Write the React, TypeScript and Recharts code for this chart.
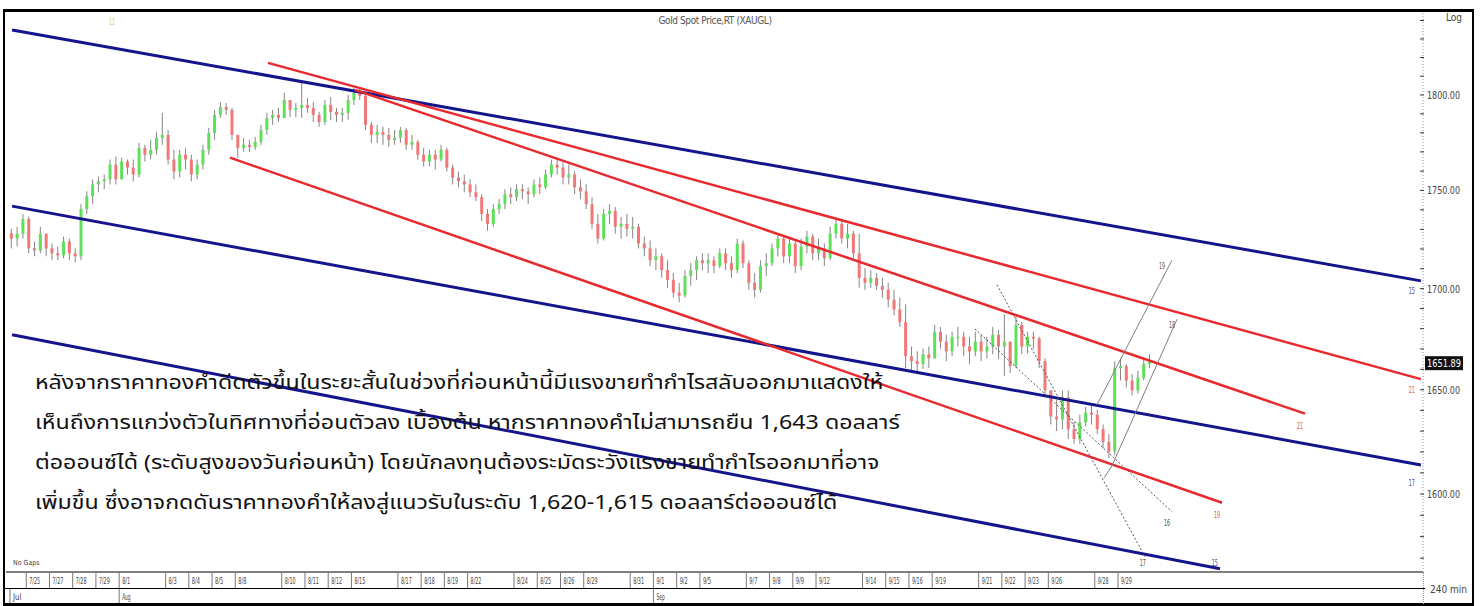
import React from 'react';
import { ComposedChart, Bar, XAxis, YAxis, ReferenceLine, ReferenceDot } from 'recharts';

// ---------- data ----------
const FIRST_OPEN = 1728.0;
const BARS_PER_DAY = 4;

const closes = [
  1725.3, 1727.8, 1735.3, 1720.3, 1719.3, 1727.8, 1720.3, 1717.8, 1716.8, 1723.8,
  1717.8, 1716.3, 1740.4, 1747.0, 1753.1, 1754.7, 1755.7, 1763.4, 1755.7, 1765.0,
  1761.8, 1758.2, 1772.1, 1768.5, 1771.1, 1777.3, 1778.9, 1766.0, 1759.8, 1768.5,
  1766.0, 1758.2, 1763.4, 1771.1, 1779.9, 1789.4, 1793.6, 1792.1, 1778.9, 1772.1,
  1773.7, 1772.6, 1775.2, 1781.5, 1787.8, 1789.4, 1787.8, 1797.3, 1792.1, 1793.1,
  1794.7, 1793.1, 1789.4, 1785.7, 1794.7, 1791.0, 1789.4, 1790.5, 1797.3, 1801.1,
  1799.5, 1784.2, 1778.9, 1780.5, 1778.9, 1776.3, 1777.3, 1781.5, 1773.7, 1775.2,
  1768.5, 1765.0, 1768.5, 1766.0, 1771.1, 1761.8, 1756.7, 1754.7, 1753.1, 1749.0,
  1746.5, 1737.9, 1732.8, 1740.4, 1742.9, 1748.0, 1746.5, 1750.6, 1749.5, 1748.0,
  1753.1, 1751.6, 1758.2, 1763.4, 1761.8, 1756.7, 1758.2, 1751.6, 1749.5, 1742.9,
  1732.8, 1725.3, 1737.9, 1739.4, 1731.3, 1732.8, 1730.3, 1731.3, 1722.8, 1720.3,
  1714.3, 1716.3, 1709.3, 1704.4, 1698.0, 1696.5, 1706.3, 1709.3, 1714.3, 1712.8,
  1714.3, 1711.3, 1717.8, 1712.8, 1709.3, 1722.8, 1712.8, 1702.9, 1699.4, 1711.3,
  1712.8, 1720.3, 1725.3, 1716.3, 1722.8, 1711.3, 1721.3, 1726.3, 1717.8, 1720.3,
  1715.3, 1727.8, 1732.8, 1725.3, 1727.8, 1717.8, 1705.4, 1702.9, 1705.4, 1701.4,
  1699.4, 1694.5, 1689.6, 1683.3, 1666.4, 1664.0, 1662.6, 1667.4, 1665.4, 1678.5,
  1673.6, 1668.8, 1676.0, 1676.0, 1671.2, 1668.8, 1673.6, 1668.8, 1671.2, 1677.0,
  1671.2, 1673.6, 1661.6, 1681.9, 1671.2, 1676.0, 1675.1, 1664.0, 1649.7, 1637.0,
  1635.6, 1646.4, 1630.9, 1626.2, 1634.2, 1638.9, 1637.9, 1630.9, 1624.8, 1620.2,
  1660.6, 1661.6, 1654.5, 1649.7, 1655.8, 1662.6, 1664.5,
];

const highs = [
  1730.3, 1731.3, 1737.9, 1736.5, 1723.8, 1731.3, 1727.8, 1722.8, 1721.3, 1726.3,
  1725.3, 1720.3, 1742.9, 1749.5, 1755.7, 1757.2, 1758.2, 1766.0, 1767.5, 1767.0,
  1766.0, 1766.0, 1774.7, 1773.7, 1776.3, 1780.5, 1790.5, 1781.5, 1771.1, 1771.1,
  1772.1, 1768.5, 1766.0, 1773.7, 1782.6, 1792.1, 1796.3, 1795.7, 1793.1, 1778.9,
  1777.3, 1776.3, 1777.8, 1784.2, 1790.5, 1792.1, 1793.1, 1801.1, 1797.3, 1795.7,
  1806.9, 1798.4, 1796.3, 1791.0, 1797.3, 1798.9, 1793.1, 1793.1, 1800.0, 1803.7,
  1803.7, 1800.0, 1785.7, 1784.2, 1783.1, 1782.6, 1781.5, 1783.1, 1782.6, 1778.9,
  1776.3, 1772.1, 1771.1, 1771.1, 1773.7, 1772.1, 1763.4, 1759.8, 1758.2, 1755.7,
  1753.1, 1748.0, 1740.4, 1742.9, 1745.5, 1750.6, 1751.6, 1753.1, 1753.1, 1751.6,
  1755.7, 1756.7, 1760.8, 1766.0, 1767.0, 1764.5, 1763.4, 1759.8, 1755.7, 1753.1,
  1746.5, 1737.9, 1740.4, 1742.9, 1741.4, 1736.3, 1737.9, 1736.3, 1732.8, 1726.3,
  1724.3, 1720.3, 1717.8, 1714.3, 1707.8, 1702.9, 1709.3, 1712.8, 1716.3, 1717.8,
  1717.8, 1716.3, 1720.3, 1720.3, 1716.3, 1725.3, 1724.3, 1714.3, 1707.8, 1714.3,
  1717.8, 1722.8, 1727.8, 1726.3, 1725.3, 1724.3, 1725.3, 1729.3, 1727.8, 1725.3,
  1722.8, 1731.3, 1735.3, 1734.3, 1732.8, 1729.3, 1727.8, 1710.3, 1709.3, 1707.8,
  1705.4, 1702.9, 1699.4, 1695.5, 1692.1, 1671.2, 1668.8, 1670.2, 1671.2, 1681.9,
  1680.9, 1677.0, 1678.5, 1680.9, 1678.5, 1676.0, 1678.5, 1677.0, 1676.0, 1680.9,
  1679.4, 1687.2, 1673.6, 1685.7, 1683.3, 1678.5, 1678.5, 1676.0, 1665.4, 1649.7,
  1645.0, 1649.7, 1649.7, 1634.6, 1637.9, 1641.7, 1642.6, 1640.3, 1633.2, 1628.6,
  1664.0, 1665.4, 1662.6, 1657.7, 1659.2, 1665.4, 1667.4,
];

const lows = [
  1720.3, 1721.3, 1725.3, 1717.8, 1716.3, 1717.8, 1716.3, 1714.3, 1714.3, 1715.3,
  1714.3, 1713.3, 1714.3, 1737.9, 1742.9, 1749.0, 1750.6, 1753.1, 1753.1, 1755.7,
  1758.2, 1754.7, 1756.7, 1765.0, 1766.0, 1768.5, 1773.7, 1763.4, 1755.7, 1756.7,
  1760.8, 1754.7, 1755.7, 1760.8, 1768.5, 1776.3, 1787.8, 1789.4, 1776.3, 1767.0,
  1770.1, 1770.1, 1771.1, 1773.7, 1778.9, 1784.2, 1785.7, 1787.8, 1788.3, 1788.3,
  1787.8, 1790.5, 1785.7, 1783.1, 1784.2, 1786.8, 1785.7, 1785.7, 1786.8, 1794.7,
  1797.3, 1781.5, 1774.7, 1774.7, 1773.7, 1772.6, 1773.7, 1774.7, 1771.1, 1771.1,
  1766.0, 1762.4, 1762.4, 1760.8, 1765.0, 1759.8, 1753.1, 1751.6, 1749.0, 1746.5,
  1744.5, 1734.3, 1729.3, 1731.3, 1737.9, 1740.4, 1742.9, 1744.5, 1745.5, 1742.9,
  1746.5, 1748.0, 1750.6, 1756.7, 1758.2, 1753.1, 1753.1, 1748.0, 1745.5, 1740.4,
  1730.3, 1722.8, 1724.3, 1732.8, 1727.8, 1725.3, 1726.3, 1725.3, 1720.3, 1716.3,
  1711.3, 1709.3, 1705.4, 1700.4, 1695.5, 1693.1, 1695.5, 1701.4, 1704.4, 1709.3,
  1707.8, 1707.8, 1710.3, 1709.3, 1705.4, 1707.8, 1710.3, 1699.4, 1695.5, 1698.0,
  1706.3, 1711.3, 1716.3, 1712.8, 1712.8, 1707.8, 1709.3, 1717.8, 1714.3, 1714.3,
  1711.3, 1714.3, 1725.3, 1722.8, 1720.3, 1715.3, 1700.4, 1699.4, 1700.4, 1699.4,
  1695.5, 1690.6, 1686.7, 1680.9, 1660.6, 1659.2, 1659.2, 1660.2, 1660.6, 1665.4,
  1670.2, 1664.0, 1666.4, 1671.2, 1666.4, 1662.6, 1666.4, 1664.0, 1665.4, 1667.4,
  1665.0, 1656.8, 1658.2, 1660.6, 1667.4, 1667.8, 1670.2, 1660.6, 1646.4, 1633.2,
  1630.0, 1630.9, 1626.2, 1623.9, 1623.9, 1632.3, 1633.2, 1628.6, 1621.6, 1617.0,
  1618.4, 1654.5, 1651.1, 1647.3, 1648.2, 1654.5, 1660.6,
];

const LAST_PRICE_LABEL = '1651.89';
const LAST_PRICE_LEVEL = 1663;

// x tick (trading day index from 7/25) and labels
const dayTickDays = [1, 2, 3, 4, 5, 7, 8, 9, 10, 12, 13, 14, 15, 17, 18, 19, 20, 22, 23, 24, 25, 27, 28, 29, 30, 32, 33, 34, 35, 37, 38, 39, 40, 42, 43, 44, 45, 47, 48];
const dayTickLabels = ['7/25', '7/27', '7/28', '7/29', '8/1', '8/3', '8/4', '8/5', '8/8', '8/10', '8/11', '8/12', '8/15', '8/17', '8/18', '8/19', '8/22', '8/24', '8/25', '8/26', '8/29', '8/31', '9/1', '9/2', '9/5', '9/7', '9/8', '9/9', '9/12', '9/14', '9/15', '9/16', '9/19', '9/21', '9/22', '9/23', '9/26', '9/28', '9/29'];
const monthTickDays = [0.3, 5, 28];
const monthTickLabels = ['Jul', 'Aug', 'Sep'];

const priceTicks = [1570, 1580, 1590, 1600, 1610, 1620, 1630, 1640, 1650, 1660, 1670, 1680, 1690, 1700, 1710, 1720, 1730, 1740, 1750, 1760, 1770, 1780, 1790, 1800, 1810, 1820, 1830, 1840];
const majorPriceTicks = [1600, 1650, 1700, 1750, 1800];

const X_DOMAIN = [0.129, 61.13];
const Y_DOMAIN = [1563.6, 1845.7];

// trend lines (day index, price)
const trendLines = [
  { x1: 0.39, y1: 1834.8, x2: 61.04, y2: 1703.9, kind: 'blue' },
  { x1: 0.39, y1: 1741.9, x2: 61.04, y2: 1613.8, kind: 'blue' },
  { x1: 0.39, y1: 1677.0, x2: 52.39, y2: 1565.1, kind: 'blue' },
  { x1: 11.41, y1: 1817.1, x2: 61.04, y2: 1655.2, kind: 'red' },
  { x1: 15.15, y1: 1802.7, x2: 56.05, y2: 1638.4, kind: 'red' },
  { x1: 9.77, y1: 1767.0, x2: 52.48, y2: 1595.9, kind: 'red' },
  { x1: 42.79, y1: 1701.9, x2: 49.16, y2: 1570.7, kind: 'dot' },
  { x1: 41.84, y1: 1679.9, x2: 50.32, y2: 1591.7, kind: 'dot' },
  { x1: 47.09, y1: 1642.6, x2: 50.32, y2: 1714.3, kind: 'thin' },
  { x1: 47.4, y1: 1607.7, x2: 47.74, y2: 1613.4, kind: 'thin' },
  { x1: 47.74, y1: 1613.4, x2: 50.54, y2: 1684.7, kind: 'thin' },
];

const lineLabels = [
  { x: 60.65, y: 1699.0, text: '15', color: '#3a3aa0' },
  { x: 60.65, y: 1605.3, text: '17', color: '#3a3aa0' },
  { x: 52.17, y: 1567.9, text: '15', color: '#3a3aa0' },
  { x: 60.65, y: 1649.7, text: '21', color: '#e05050' },
  { x: 55.83, y: 1632.3, text: '21', color: '#e05050' },
  { x: 52.26, y: 1590.2, text: '19', color: '#e05050' },
  { x: 49.07, y: 1567.9, text: '17', color: '#444' },
  { x: 50.11, y: 1586.5, text: '16', color: '#444' },
  { x: 50.32, y: 1681.9, text: '18', color: '#555' },
  { x: 49.89, y: 1711.3, text: '19', color: '#555' },
  { x: 4.69, y: 1839.2, text: '11', color: '#d8c870' },
];

const thaiLines = [
  'หลังจากราคาทองคำดีดตัวขึ้นในระยะสั้นในช่วงที่ก่อนหน้านี้มีแรงขายทำกำไรสลับออกมาแสดงให้',
  'เห็นถึงการแกว่งตัวในทิศทางที่อ่อนตัวลง เบื้องต้น หากราคาทองคำไม่สามารถยืน 1,643 ดอลลาร์',
  'ต่อออนซ์ได้ (ระดับสูงของวันก่อนหน้า) โดยนักลงทุนต้องระมัดระวังแรงขายทำกำไรออกมาที่อาจ',
  'เพิ่มขึ้น ซึ่งอาจกดดันราคาทองคำให้ลงสู่แนวรับในระดับ 1,620-1,615 ดอลลาร์ต่อออนซ์ได้',
];

const candles = closes.map((c, k) => ({
  t: (k + 1.5) / BARS_PER_DAY,
  open: k === 0 ? FIRST_OPEN : closes[k - 1],
  high: highs[k],
  low: lows[k],
  close: c,
}));

// ---------- styles ----------
const NARROW = "'Liberation Sans Narrow', 'DejaVu Sans Condensed', 'Liberation Sans', sans-serif";
const BLUE = '#14148c';
const RED = '#e8292e';
const UP = '#5fe05a';
const DOWN = '#f07878';

const lineStyle = (kind: string) => {
  if (kind === 'blue') return { stroke: BLUE, strokeWidth: 3 };
  if (kind === 'red') return { stroke: RED, strokeWidth: 2.5 };
  if (kind === 'dot') return { stroke: '#555', strokeWidth: 1, strokeDasharray: '2 2' };
  return { stroke: '#808080', strokeWidth: 1 };
};

function Candle(props: any) {
  const { x, y, width, height, payload } = props;
  if (!payload || height == null || isNaN(y)) return null;
  const { open, close } = payload;
  const hi = Math.max(payload.high, open, close);
  const lo = Math.min(payload.low, open, close);
  const lh = Math.log(payload.high);
  const ll = Math.log(payload.low);
  const toY = (v: number) => (lh === ll ? y : y + (height * (lh - Math.log(v))) / (lh - ll));
  const up = close >= open;
  const top = toY(Math.max(open, close));
  const bot = toY(Math.min(open, close));
  const cx = x + width / 2;
  return (
    <g>
      <line x1={cx} x2={cx} y1={toY(hi)} y2={toY(lo)} stroke="#858585" strokeWidth={1} />
      <rect x={x} y={top} width={width} height={Math.max(1, bot - top)} fill={up ? UP : DOWN} />
    </g>
  );
}

function PriceTick(props: any) {
  const { x, y, payload } = props;
  const v = payload.value;
  const major = majorPriceTicks.includes(v);
  return (
    <g>
      <line x1={x - 3} x2={x + 1} y1={y} y2={y} stroke="#333" strokeWidth={1} />
      {major && (
        <text x={x + 4} y={y + 4} fontSize={10} fontFamily={NARROW} fill="#444" textLength={33} lengthAdjust="spacingAndGlyphs">
          {v.toFixed(2)}
        </text>
      )}
    </g>
  );
}

function LeftTick(props: any) {
  const { x, y } = props;
  return <line x1={x - 1} x2={x + 3} y1={y} y2={y} stroke="#222" strokeWidth={1.2} />;
}

function DateTick(props: any) {
  const { x, y, payload } = props;
  const v = payload.value;
  const di = dayTickDays.indexOf(v);
  const mi = monthTickDays.indexOf(v);
  return (
    <g>
      {di >= 0 && (
        <g>
          <line x1={x} x2={x} y1={y} y2={y + 16} stroke="#777" strokeWidth={1} />
          <text x={x + 3} y={y + 12} fontSize={9} fontFamily={NARROW} fill="#444" textLength={dayTickLabels[di].length * 2.7} lengthAdjust="spacingAndGlyphs">
            {dayTickLabels[di]}
          </text>
        </g>
      )}
      {mi >= 0 && (
        <g>
          <line x1={x} x2={x} y1={y + 16} y2={y + 31} stroke="#777" strokeWidth={1} />
          <text x={x + 3} y={y + 28} fontSize={9} fontFamily={NARROW} fill="#444" textLength={monthTickLabels[mi].length * 2.8} lengthAdjust="spacingAndGlyphs">
            {monthTickLabels[mi]}
          </text>
        </g>
      )}
    </g>
  );
}

const allXTicks = [...monthTickDays.filter((d) => !dayTickDays.includes(d)), ...dayTickDays].sort((a, b) => a - b);

export default function App() {
  return (
    <div style={{ position: 'absolute', left: 0, top: 0, width: 1480, height: 606, background: '#fff', overflow: 'hidden' }}>
      <ComposedChart width={1480} height={606} data={candles} margin={{ top: 10, right: 7, bottom: 0, left: 6 }}>
        <XAxis
          xAxisId="t"
          type="number"
          dataKey="t"
          domain={X_DOMAIN}
          allowDataOverflow
          ticks={allXTicks}
          interval={0}
          height={34}
          tickSize={0}
          tickMargin={0}
          tickLine={false}
          axisLine={{ stroke: '#000', strokeWidth: 1 }}
          tick={<DateTick />}
        />
        <YAxis
          yAxisId="p"
          orientation="right"
          scale="log"
          type="number"
          domain={Y_DOMAIN}
          allowDataOverflow
          ticks={priceTicks}
          interval={0}
          width={50}
          tickSize={0}
          tickMargin={0}
          tickLine={false}
          axisLine={{ stroke: '#9a9a9a', strokeDasharray: '1 2' }}
          tick={<PriceTick />}
        />
        <YAxis
          yAxisId="pl"
          orientation="left"
          scale="log"
          type="number"
          domain={Y_DOMAIN}
          allowDataOverflow
          ticks={priceTicks}
          interval={0}
          width={0}
          tickSize={0}
          tickMargin={0}
          tickLine={false}
          axisLine={false}
          tick={<LeftTick />}
        />
        <Bar
          xAxisId="t"
          yAxisId="p"
          dataKey={(d: any) => [d.low, d.high]}
          barSize={3}
          shape={<Candle />}
          isAnimationActive={false}
        />
        {trendLines.map((l, i) => (
          <ReferenceLine
            key={'tl' + i}
            xAxisId="t"
            yAxisId="p"
            segment={[{ x: l.x1, y: l.y1 }, { x: l.x2, y: l.y2 }]}
            ifOverflow="visible"
            {...lineStyle(l.kind)}
          />
        ))}
        {lineLabels.map((l, i) => (
          <ReferenceDot
            key={'ll' + i}
            xAxisId="t"
            yAxisId="p"
            x={l.x}
            y={l.y}
            ifOverflow="visible"
            shape={(p: any) => (
              <text x={p.cx} y={p.cy + 3} fontSize={8} fontFamily={NARROW} fill={l.color} textAnchor="middle" textLength={6} lengthAdjust="spacingAndGlyphs">
                {l.text}
              </text>
            )}
          />
        ))}
        <ReferenceDot
          xAxisId="t"
          yAxisId="p"
          x={X_DOMAIN[1]}
          y={LAST_PRICE_LEVEL}
          ifOverflow="visible"
          shape={(p: any) => (
            <g>
              <rect x={p.cx + 2} y={p.cy - 7} width={38} height={14} fill="#111" />
              <text x={p.cx + 4} y={p.cy + 4} fontSize={10} fontFamily={NARROW} fill="#fff" textLength={34} lengthAdjust="spacingAndGlyphs">
                {LAST_PRICE_LABEL}
              </text>
            </g>
          )}
        />
      </ComposedChart>

      {/* frame and panel decorations */}
      <div style={{ position: 'absolute', left: 3, top: 9, width: 1471, height: 597, borderTop: '3px solid #000', borderLeft: '2px solid #000', borderRight: '2px solid #000', borderBottom: '3px solid #000', boxSizing: 'border-box', pointerEvents: 'none' }} />
      <div style={{ position: 'absolute', left: 5, top: 588, width: 1420, height: 1, background: '#000' }} />
      <div style={{ position: 'absolute', left: 1423, top: 572, width: 1, height: 32, borderLeft: '1px dotted #999' }} />

      <div style={{ position: 'absolute', left: 615, top: 15, width: 200, textAlign: 'center', fontSize: 10, letterSpacing: -0.4, fontFamily: NARROW, color: '#555' }}>
        Gold Spot Price,RT (XAUGL)
      </div>
      <div style={{ position: 'absolute', left: 1446, top: 12, fontSize: 10, fontFamily: NARROW, color: '#444' }}>Log</div>
      <div style={{ position: 'absolute', left: 1430, top: 584, fontSize: 10, fontFamily: NARROW, color: '#444' }}>240 min</div>
      <div style={{ position: 'absolute', left: 13, top: 559, fontSize: 7, fontFamily: NARROW, color: '#444' }}>No Gaps</div>

      {thaiLines.map((t, i) => (
        <div
          key={'th' + i}
          style={{
            position: 'absolute',
            left: 35,
            top: 368 + i * 40,
            fontSize: 20,
            lineHeight: '30px',
            color: '#111',
            whiteSpace: 'nowrap',
            transform: 'scaleX(1.16)',
            transformOrigin: 'left center',
            fontFamily: "'Noto Sans Thai', 'Tahoma', 'Loma', 'Garuda', sans-serif",
          }}
        >
          {t}
        </div>
      ))}
    </div>
  );
}
